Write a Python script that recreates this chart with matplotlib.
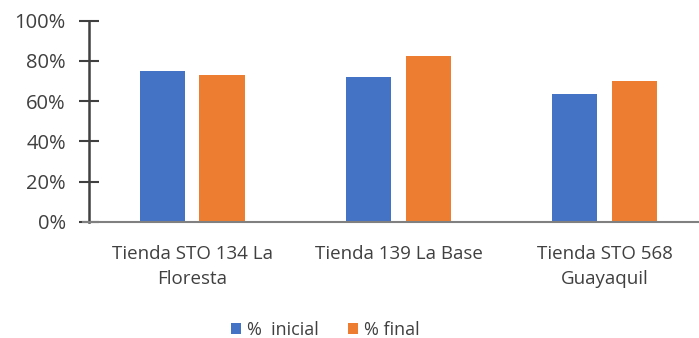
import matplotlib.pyplot as plt
import numpy as np
from matplotlib.ticker import PercentFormatter

tiendas = ['Tienda STO 134 La\nFloresta', 'Tienda 139 La Base', 'Tienda STO 568\nGuayaquil']
inicial = [75.2, 72.2, 63.6]
final = [73.1, 82.6, 69.8]
yticks = [0, 20, 40, 60, 80, 100]

plt.rcParams['font.family'] = ['Open Sans', 'DejaVu Sans']

fig = plt.figure(figsize=(6.99, 3.38), dpi=100)
# right edge sits a little past the figure, like the cropped original
ax = fig.add_axes([89.5 / 699, 1 - 221.7 / 338, (708 - 89.5) / 699, 201 / 338])

x = np.arange(len(tiendas))
w = 0.22
ax.bar(x - 0.146, inicial, w, color='#4472C4', label='%  inicial')
ax.bar(x + 0.143, final, w, color='#ED7D31', label='% final')

ax.set_xlim(-0.5, 2.5)
ax.set_ylim(0, 100)
ax.set_yticks(yticks)
ax.yaxis.set_major_formatter(PercentFormatter(decimals=0))
ax.set_xticks(x)
ax.set_xticklabels(tiendas, fontsize=13.5, color='#404040', linespacing=1.5)

for s in ['top', 'right']:
    ax.spines[s].set_visible(False)
ax.spines['left'].set_color('#404040')
ax.spines['left'].set_linewidth(1.8)
ax.spines['bottom'].set_color('#808080')
ax.spines['bottom'].set_linewidth(1.5)
ax.spines['bottom'].set_bounds(-0.532, 2.5)

ax.tick_params(axis='y', direction='inout', length=14, width=1.5, color='#404040',
               labelsize=14.5, labelcolor='#404040', pad=10)
ax.tick_params(axis='x', length=0, pad=17)

fig.legend(loc='lower center', bbox_to_anchor=(0.465, -0.05), ncol=2, frameon=False,
           fontsize=13, handlelength=0.6, handleheight=0.6, handletextpad=0.3,
           columnspacing=1.6, labelcolor='#404040')

fig.savefig('out.png', dpi=100)
